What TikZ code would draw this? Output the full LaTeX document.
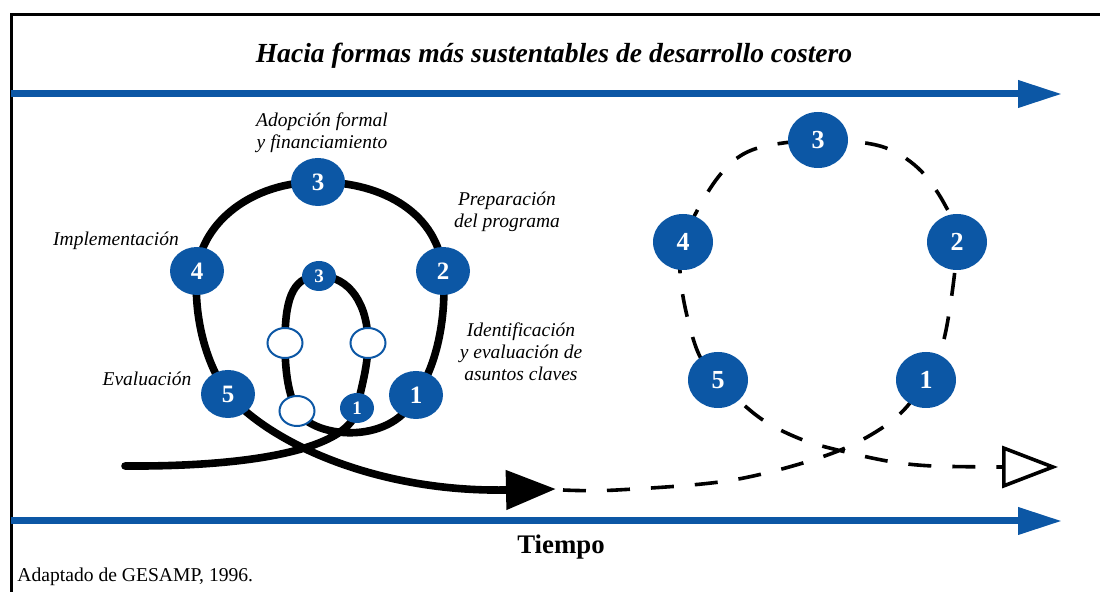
\documentclass[tikz,border=0pt]{standalone}
\usepackage{fontspec}
\setmainfont{Liberation Serif}
\usetikzlibrary{shapes.geometric,arrows.meta}
\pgfdeclarelayer{bg}
\pgfsetlayers{bg,main}
\definecolor{gblue}{HTML}{0C57A5}
\begin{document}
\begin{tikzpicture}[x=0.5pt,y=-0.5pt,
  bignode/.style={ellipse, fill=gblue, minimum width=27pt, minimum height=24pt, inner sep=0pt, text=white, font=\fontsize{12.5}{13}\selectfont\bfseries},
  rnode/.style={ellipse, fill=gblue, minimum width=30pt, minimum height=28pt, inner sep=0pt, text=white, font=\fontsize{13}{14}\selectfont\bfseries},
  smallnode/.style={ellipse, fill=gblue, minimum width=17pt, minimum height=15pt, inner sep=0pt, text=white, font=\fontsize{9.5}{10}\selectfont\bfseries},
  whitenode/.style={ellipse, fill=white, draw=gblue, line width=1pt, minimum width=17.5pt, minimum height=15pt, inner sep=0pt},
  lbl/.style={align=center, font=\fontsize{9.75}{11}\selectfont\itshape, inner sep=0pt},
  bluearrow/.style={draw=gblue, line width=3.5pt, -{Triangle[length=22pt,width=13pt]}},
  mainline/.style={line width=3.8pt, line cap=round},
  dashline/.style={line width=1.8pt, dash pattern=on 11.5pt off 10.5pt},
]
\useasboundingbox (0,0) rectangle (1100,592);
% frame
\draw[line width=1.5pt] (11,592) -- (11,15) -- (1100,15);

% title and axis
\node[font=\fontsize{13.8}{16}\selectfont\bfseries\itshape] (title) at (554,56) {Hacia formas más sustentables de desarrollo costero};
\coordinate (ta0) at (11,94);
\coordinate (ta1) at (1062,94);
\draw[bluearrow] (ta0) -- (ta1);
\coordinate (ba0) at (11,521);
\coordinate (ba1) at (1062,521);
\draw[bluearrow] (ba0) -- (ba1);
\node[font=\fontsize{13.4}{16}\selectfont\bfseries] (tiempo) at (561,547) {Tiempo};
\node[anchor=west, font=\fontsize{9.8}{12}\selectfont, inner sep=0pt] (src) at (17,577) {Adaptado de GESAMP, 1996.};

% left cycle nodes
\node[bignode] (B1) at (416,395) {1};
\node[bignode] (B2) at (443,271) {2};
\node[bignode] (B3) at (318,182) {3};
\node[bignode] (B4) at (197,271) {4};
\node[bignode] (B5) at (228,394) {5};
\node[smallnode] (S1) at (357,408) {1};
\node[smallnode] (S3) at (319,276) {3};
\node[whitenode] (WL) at (285,343) {};
\node[whitenode] (WR) at (368,343) {};
\node[whitenode] (WB) at (297,411) {};

% left labels
\node[lbl] (l3) at (322,133) {Adopción formal\\ y financiamiento};
\node[lbl] (l2) at (507,212) {Preparación\\ del programa};
\node[lbl] (l4) at (116,241) {Implementación};
\node[lbl] (l1) at (521,352) {Identificación\\ y evaluación de\\ asuntos claves};
\node[lbl] (l5) at (147,379) {Evaluación};

% right cycle nodes
\node[rnode] (R1) at (926,380) {1};
\node[rnode] (R2) at (957,242) {2};
\node[rnode] (R3) at (818,140) {3};
\node[rnode] (R4) at (683,242) {4};
\node[rnode] (R5) at (718,380) {5};

\coordinate (start) at (125,466);
\coordinate (a1) at (505,490);
\coordinate (a2) at (556,489);
\coordinate (d0) at (563,490);
\coordinate (d1) at (1000,467);
\coordinate (d2) at (1058,467);

\begin{pgfonlayer}{bg}
\draw[mainline] (start)
  .. controls (260,467) and (352,447) .. (S1.center)
  .. controls (362,385) and (368,365) .. (WR.center)
  .. controls (368,305) and (350,276) .. (S3.center)
  .. controls (290,276) and (285,305) .. (WL.center)
  .. controls (285,375) and (289,395) .. (WB.center)
  .. controls (315,440) and (395,445) .. (B1.center)
  .. controls (438,365) and (447,312) .. (B2.center)
  .. controls (438,215) and (385,182) .. (B3.center)
  .. controls (252,182) and (202,222) .. (B4.center)
  .. controls (193,318) and (207,366) .. (B5.center)
  .. controls (272,445) and (380,492) .. (a1);
\draw[dashline] plot[smooth, tension=0.55] coordinates {
  (d0) (617,490) (733,480) (833,453) (893,420) (R1.center) (945,335) (R2.center)
  (945,205) (918,168) (880,146) (R3.center) (752,150) (716,180) (R4.center)
  (682,290) (697,350) (R5.center) (760,418) (803,440) (850,453) (893,462) (933,466) (d1)};
\end{pgfonlayer}
\draw[line width=3.8pt, -{Triangle[length=25pt,width=19pt]}] (a1) -- (a2);
\draw[line width=1.8pt, -{Triangle[open,length=28pt,width=21pt]}] (d1) -- (d2);
\end{tikzpicture}
\end{document}
